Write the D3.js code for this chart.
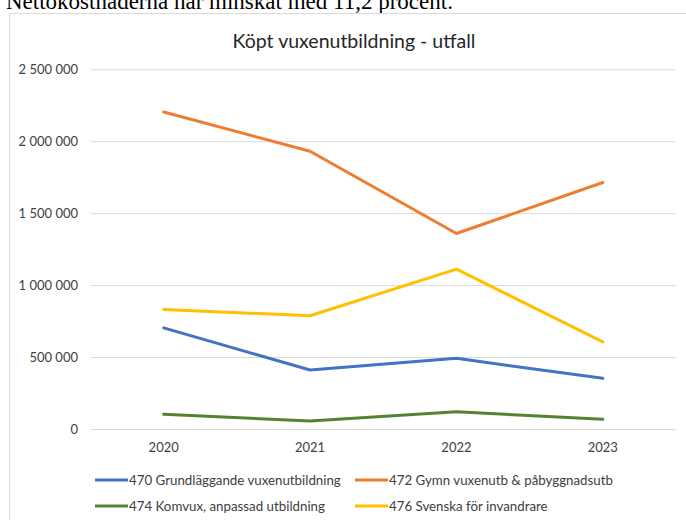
<!DOCTYPE html>
<html>
<head>
<meta charset="utf-8">
<script src="https://cdn.jsdelivr.net/npm/d3@7"></script>
<style>
  html, body { margin: 0; padding: 0; background: #fff; }
  svg { display: block; }
</style>
</head>
<body>
<svg id="chart" width="686" height="520"></svg>
<script>
// ---- data ----
const years = ["2020", "2021", "2022", "2023"];
const seriesNames = [
  "470 Grundläggande vuxenutbildning",
  "472 Gymn vuxenutb & påbyggnadsutb",
  "474 Komvux, anpassad utbildning",
  "476 Svenska för invandrare"
];
const grundlaggande = [703000, 410000, 491000, 352000];
const gymnasial = [2203000, 1930000, 1359000, 1713000];
const komvuxAnpassad = [102000, 56000, 120000, 67000];
const sfi = [831000, 787000, 1111000, 606000];
const yTicks = [0, 500000, 1000000, 1500000, 2000000, 2500000];
const chartTitle = "Köpt vuxenutbildning - utfall";
const introText = "Nettokostnaderna har minskat med 11,2 procent.";

const seriesValues = [grundlaggande, gymnasial, komvuxAnpassad, sfi];
const colors = ["#4472C4", "#ED7D31", "#548235", "#FFC000"];

const svg = d3.select("#chart");
const font = "Lato, 'Open Sans', 'DejaVu Sans', sans-serif";

// intro text (cut at the top of the picture, as in the source)
svg.append("text")
  .attr("x", 6).attr("y", 9)
  .attr("font-family", "'Liberation Serif', 'Times New Roman', serif")
  .attr("font-size", 23)
  .attr("fill", "#000")
  .text(introText);

// chart frame
svg.append("rect")
  .attr("x", 9.5).attr("y", 13.5)
  .attr("width", 720).attr("height", 540)
  .attr("fill", "#fff")
  .attr("stroke", "#d9d9d9").attr("stroke-width", 1);

// title
svg.append("text")
  .attr("x", 354).attr("y", 48)
  .attr("text-anchor", "middle")
  .attr("font-family", font)
  .attr("font-size", 19.5)
  .attr("fill", "#262626")
  .text(chartTitle);

const plot = { left: 90.5, right: 676, top: 69.3, bottom: 429 };

const x = d3.scaleBand().domain(years).range([plot.left, plot.right]);
const y = d3.scaleLinear().domain([0, 2500000]).range([plot.bottom, plot.top]);

const loc = d3.formatLocale({ decimal: ",", thousands: "\u00a0", grouping: [3], currency: ["", " kr"] });
const fmt = loc.format(",d");

// gridlines
const grid = svg.append("g")
  .attr("transform", `translate(${plot.left},0)`)
  .call(d3.axisLeft(y).tickValues(yTicks).tickSize(-(plot.right - plot.left)).tickFormat(""));
grid.select(".domain").remove();
grid.selectAll(".tick line").attr("stroke", "#d9d9d9").attr("stroke-width", 1);

// y labels
const yAxis = svg.append("g")
  .attr("transform", `translate(${plot.left - 12.5},0)`)
  .call(d3.axisLeft(y).tickValues(yTicks).tickSize(0).tickPadding(0).tickFormat(fmt));
yAxis.select(".domain").remove();
yAxis.selectAll("text")
  .attr("font-family", font).attr("font-size", 13).attr("fill", "#404040");

// x labels
const xAxis = svg.append("g")
  .attr("transform", `translate(0,${plot.bottom})`)
  .call(d3.axisBottom(x).tickSize(0).tickPadding(0));
xAxis.select(".domain").remove();
xAxis.selectAll("text")
  .attr("dy", 0).attr("y", 23)
  .attr("font-family", font).attr("font-size", 13).attr("fill", "#404040");

// lines
const line = d3.line()
  .x((d, i) => x(years[i]) + x.bandwidth() / 2)
  .y(d => y(d));

svg.append("g").selectAll("path")
  .data(seriesValues)
  .join("path")
  .attr("d", d => line(d))
  .attr("fill", "none")
  .attr("stroke", (d, i) => colors[i])
  .attr("stroke-width", 3)
  .attr("stroke-linejoin", "round")
  .attr("stroke-linecap", "round");

// legend
const legPos = [
  { lx: 95, row: 0 }, { lx: 355, row: 0 },
  { lx: 95, row: 1 }, { lx: 355, row: 1 }
];
const leg = svg.append("g").selectAll("g")
  .data(seriesNames)
  .join("g")
  .attr("transform", (d, i) => `translate(${legPos[i].lx},${480 + legPos[i].row * 26})`);
leg.append("line")
  .attr("x1", 0).attr("x2", 33).attr("y1", 0).attr("y2", 0)
  .attr("stroke", (d, i) => colors[i]).attr("stroke-width", 3);
leg.append("text")
  .attr("x", 34).attr("y", 4.5)
  .attr("font-family", font).attr("font-size", 13.3).attr("fill", "#404040")
  .text(d => d);
</script>
</body>
</html>
